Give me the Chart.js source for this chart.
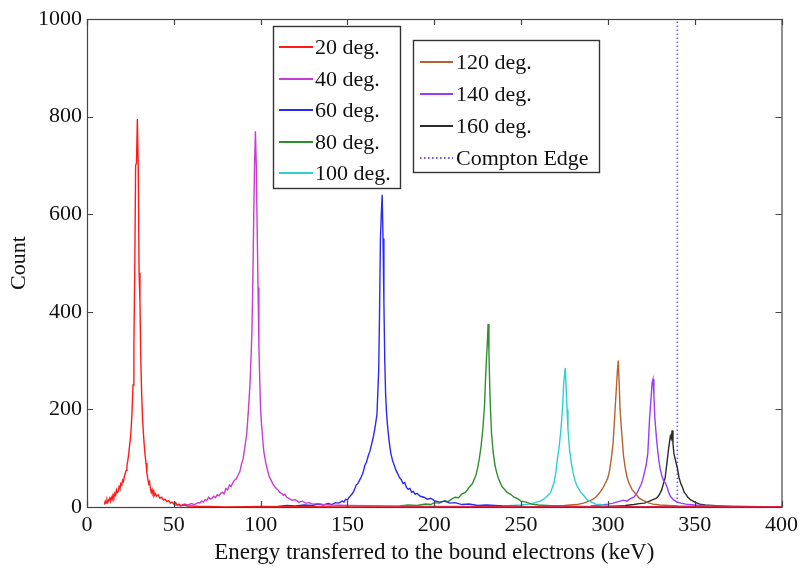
<!DOCTYPE html>
<html>
<head>
<meta charset="utf-8">
<script src="https://cdn.jsdelivr.net/npm/chart.js@4.4.0/dist/chart.umd.min.js"></script>
<style>
  html, body { margin: 0; padding: 0; background: #fff; }
  #wrap { width: 803px; height: 574px; }
</style>
</head>
<body>
<div id="wrap"><canvas id="spec"></canvas></div>
<script>
// energies (keV) and counts, one pair of arrays per angle
const e20 = [10, 10.5, 11, 11.5, 12, 12.5, 13, 13.5, 14, 14.5, 15, 15.5, 16, 16.5, 17, 17.5, 18, 18.5, 19, 19.5, 20, 20.5, 21, 21.5, 22, 22.5, 23, 23.5, 24, 24.5, 25, 25.5, 26, 26.5, 27, 27.5, 28, 28.5, 29, 29.5, 30, 30.5, 31, 31.5, 32, 32.5, 33, 33.5, 34, 34.5, 35, 35.5, 36, 36.5, 37, 37.5, 38, 38.5, 39, 39.5, 40, 41, 42, 43, 44, 45, 46, 47, 48, 49, 50, 51, 52, 53, 54, 56, 58, 60, 65, 70, 80, 100, 150, 250, 400];
const c20 = [5, 12, 8, 15, 10, 14, 18, 12, 20, 16, 25, 20, 28, 24, 35, 30, 32, 42, 38, 48, 45, 55, 52, 62, 68, 75, 85, 95, 108, 125, 140, 165, 200, 250, 330, 480, 700, 705, 795, 700, 480, 420, 300, 230, 180, 150, 125, 105, 90, 70, 58, 48, 52, 38, 30, 36, 28, 32, 24, 27, 22, 25, 18, 20, 14, 16, 11, 13, 8, 10, 6, 9, 4, 6, 3, 4, 2, 2, 1, 1, 0, 1, 0, 0, 0];

const e40 = [50, 52, 54, 56, 58, 60, 62, 64, 65, 66, 67, 68, 69, 70, 71, 72, 73, 74, 75, 76, 77, 78, 79, 80, 81, 82, 83, 84, 85, 86, 87, 88, 89, 90, 91, 92, 93, 94, 95, 95.5, 96, 96.5, 97, 97.5, 98, 98.5, 99, 99.5, 100, 100.5, 101, 101.5, 102, 103, 104, 105, 106, 107, 108, 109, 110, 111, 112, 113, 114, 115, 116, 118, 120, 122, 124, 126, 128, 130, 133, 136, 140, 150, 200, 300, 400];
const c40 = [3, 5, 2, 6, 4, 7, 5, 9, 8, 12, 10, 15, 13, 20, 16, 18, 22, 19, 25, 23, 28, 30, 27, 38, 35, 45, 42, 50, 55, 58, 65, 72, 88, 100, 125, 150, 200, 260, 360, 460, 590, 700, 770, 700, 575, 450, 330, 260, 200, 170, 150, 125, 110, 90, 75, 62, 55, 48, 42, 38, 35, 30, 28, 24, 26, 20, 18, 14, 15, 10, 12, 8, 9, 6, 7, 5, 4, 3, 1, 0, 0];

const e60 = [110, 115, 120, 125, 130, 133, 136, 139, 141, 143, 145, 147, 148, 149, 150, 151, 152, 153, 154, 155, 156, 157, 158, 159, 160, 161, 162, 163, 164, 165, 166, 167, 168, 168.5, 169, 169.5, 170, 170.5, 171, 171.5, 172, 172.5, 173, 174, 175, 176, 177, 178, 179, 180, 181, 182, 183, 184, 185, 186, 187, 188, 189, 190, 192, 194, 196, 198, 200, 203, 206, 209, 212, 216, 220, 225, 230, 240, 250, 300, 400];
const c60 = [1, 3, 2, 4, 3, 6, 4, 7, 5, 9, 8, 12, 10, 16, 14, 20, 24, 28, 35, 45, 48, 55, 62, 70, 85, 92, 105, 115, 130, 145, 165, 190, 280, 400, 550, 600, 640, 550, 420, 300, 230, 195, 170, 135, 110, 95, 85, 75, 68, 60, 56, 48, 50, 40, 36, 38, 30, 32, 26, 28, 22, 20, 16, 18, 13, 10, 12, 8, 9, 5, 6, 3, 4, 2, 1, 0, 0];

const e80 = [180, 185, 190, 195, 198, 200, 203, 206, 208, 210, 212, 214, 216, 218, 220, 222, 224, 225, 226, 227, 228, 229, 229.5, 230, 230.5, 231, 231.5, 232, 232.5, 233, 234, 235, 236, 237, 238, 239, 240, 242, 244, 246, 248, 250, 253, 256, 260, 270, 300, 400];
const c80 = [2, 4, 3, 6, 5, 9, 8, 13, 11, 16, 20, 19, 27, 30, 40, 48, 65, 80, 100, 125, 160, 210, 260, 300, 330, 375, 320, 240, 190, 150, 110, 85, 70, 58, 50, 42, 38, 30, 26, 20, 17, 12, 10, 6, 4, 2, 0, 0];

const e100 = [240, 250, 255, 258, 261, 263, 265, 267, 268, 269, 270, 271, 272, 273, 274, 274.5, 275, 275.5, 276, 276.5, 277, 278, 279, 280, 281, 282, 284, 286, 288, 290, 293, 296, 300, 310, 400];
const c100 = [2, 4, 6, 9, 12, 16, 22, 30, 40, 50, 70, 100, 125, 160, 210, 250, 270, 285, 240, 200, 160, 115, 90, 70, 55, 45, 32, 24, 15, 11, 6, 5, 2, 1, 0];

const e120 = [260, 275, 282, 286, 289, 291, 293, 295, 297, 298, 299, 300, 301, 302, 303, 304, 305, 305.5, 306, 306.5, 307, 308, 309, 310, 311, 312, 314, 316, 318, 320, 323, 326, 330, 340, 400];
const c120 = [2, 3, 5, 8, 12, 15, 20, 28, 38, 45, 52, 60, 75, 100, 130, 190, 250, 280, 300, 255, 200, 150, 105, 80, 62, 50, 35, 27, 18, 14, 9, 6, 4, 2, 0];

const e140 = [290, 296, 300, 303, 306, 309, 311, 313, 315, 317, 318, 319, 320, 321, 322, 323, 324, 325, 325.5, 326, 326.5, 327, 328, 329, 330, 331, 332, 333, 334, 335, 336, 337, 338, 340, 342, 345, 350, 360, 400];
const c140 = [2, 4, 6, 8, 11, 14, 12, 17, 20, 30, 38, 45, 55, 70, 85, 110, 180, 230, 255, 262, 230, 185, 140, 105, 80, 65, 55, 50, 42, 30, 22, 18, 14, 10, 8, 6, 4, 2, 0];

const e160 = [300, 310, 315, 318, 321, 324, 326, 328, 329, 330, 331, 332, 333, 334, 335, 336, 336.5, 337, 337.5, 338, 339, 340, 341, 342, 343, 344, 345, 346, 348, 350, 353, 356, 360, 370, 400];
const c160 = [1, 3, 5, 7, 8, 12, 15, 18, 22, 28, 35, 48, 60, 90, 120, 145, 140, 157, 130, 110, 95, 80, 60, 48, 40, 30, 26, 20, 14, 10, 6, 4, 3, 1, 0];

const comptonEdge = 340;

const xTicks = [0, 50, 100, 150, 200, 250, 300, 350, 400];
const yTicks = [0, 200, 400, 600, 800, 1000];

const labels = ["20 deg.", "40 deg.", "60 deg.", "80 deg.", "100 deg.", "120 deg.", "140 deg.", "160 deg.", "Compton Edge"];
const colors = ["#ff1a1a", "#c83ccf", "#2a2aef", "#2f8f2f", "#2fcfcf", "#b4622e", "#9a3cf5", "#2a2a2a", "#6a5cf0"];

const FONT = "'Liberation Serif', 'Times New Roman', serif";

function pts(xs, ys) {
  return xs.map((x, i) => ({ x: x, y: ys[i] }));
}

const series = [[e20, c20], [e40, c40], [e60, c60], [e80, c80], [e100, c100], [e120, c120], [e140, c140], [e160, c160]];

const datasets = series.map((s, i) => ({
  label: labels[i],
  data: pts(s[0], s[1]),
  borderColor: colors[i],
  borderWidth: 1.4,
  pointRadius: 0,
  tension: 0
}));

datasets.push({
  label: labels[8],
  data: [{ x: comptonEdge, y: 0 }, { x: comptonEdge, y: 1000 }],
  borderColor: colors[8],
  borderWidth: 1.6,
  borderDash: [1.6, 2.4],
  pointRadius: 0
});

// box + inward ticks on all four sides, like matlab axes
const boxPlugin = {
  id: "box",
  afterDatasetsDraw(chart) {
    const ctx = chart.ctx;
    const a = chart.chartArea;
    const xs = chart.scales.x, ys = chart.scales.y;
    ctx.save();
    ctx.strokeStyle = "#444";
    ctx.lineWidth = 1.2;
    ctx.strokeRect(a.left + 0.5, a.top + 0.5, a.right - a.left, a.bottom - a.top);
    ctx.beginPath();
    xTicks.forEach(v => {
      const px = Math.round(xs.getPixelForValue(v)) + 0.5;
      ctx.moveTo(px, a.bottom); ctx.lineTo(px, a.bottom - 6);
      ctx.moveTo(px, a.top); ctx.lineTo(px, a.top + 6);
    });
    yTicks.forEach(v => {
      const py = Math.round(ys.getPixelForValue(v)) + 0.5;
      ctx.moveTo(a.left, py); ctx.lineTo(a.left + 6, py);
      ctx.moveTo(a.right, py); ctx.lineTo(a.right - 6, py);
    });
    ctx.stroke();
    ctx.restore();
  }
};

// two separate legend boxes
const legendPlugin = {
  id: "twoLegends",
  afterDraw(chart) {
    const ctx = chart.ctx;
    const boxes = [
      { x: 273, y: 26, w: 127, h: 162, items: [0, 1, 2, 3, 4], rowY: 47, step: 31.5, lx0: 279, lx1: 313, tx: 315 },
      { x: 413, y: 40, w: 186, h: 132, items: [5, 6, 7, 8], rowY: 62, step: 32, lx0: 420, lx1: 453, tx: 456 }
    ];
    ctx.save();
    boxes.forEach(b => {
      ctx.fillStyle = "#fff";
      ctx.fillRect(b.x, b.y, b.w, b.h);
      ctx.strokeStyle = "#333";
      ctx.lineWidth = 1.4;
      ctx.strokeRect(b.x + 0.5, b.y + 0.5, b.w, b.h);
      b.items.forEach((idx, k) => {
        const ds = chart.data.datasets[idx];
        const y = Math.round(b.rowY + k * b.step);
        ctx.beginPath();
        ctx.strokeStyle = ds.borderColor;
        ctx.lineWidth = 2;
        ctx.setLineDash(ds.borderDash || []);
        ctx.moveTo(b.lx0, y);
        ctx.lineTo(b.lx1, y);
        ctx.stroke();
        ctx.setLineDash([]);
        ctx.fillStyle = "#111";
        ctx.font = "22px " + FONT;
        ctx.textBaseline = "middle";
        ctx.fillText(ds.label, b.tx, y + 1);
      });
    });
    ctx.restore();
  }
};

const ctx = document.getElementById("spec").getContext("2d");

new Chart(ctx, {
  type: "line",
  data: { datasets: datasets },
  options: {
    responsive: true,
    maintainAspectRatio: false,
    animation: false,
    layout: { padding: { top: 19, right: 19, left: 0, bottom: 0 } },
    plugins: {
      legend: { display: false },
      tooltip: { enabled: false }
    },
    scales: {
      x: {
        type: "linear",
        min: 0,
        max: 400,
        grid: { display: false, drawTicks: false },
        border: { display: false },
        afterFit: s => { s.height = 67; },
        afterBuildTicks: s => { s.ticks = xTicks.map(v => ({ value: v })); },
        ticks: { color: "#111", padding: 5, font: { family: FONT, size: 22 }, maxRotation: 0, callback: v => String(v) },
        title: {
          display: true,
          text: "Energy transferred to the bound electrons (keV)",
          color: "#111",
          font: { family: FONT, size: 23 },
          padding: { top: 0, bottom: 7 }
        }
      },
      y: {
        min: 0,
        max: 1000,
        grid: { display: false, drawTicks: false },
        border: { display: false },
        afterFit: s => { s.width = 87; },
        afterBuildTicks: s => { s.ticks = yTicks.map(v => ({ value: v })); },
        ticks: { color: "#111", padding: 5, font: { family: FONT, size: 22 }, callback: v => String(v) },
        title: {
          display: true,
          text: "Count",
          color: "#111",
          font: { family: FONT, size: 22 },
          padding: { top: 6, bottom: 0 }
        }
      }
    }
  },
  plugins: [boxPlugin, legendPlugin]
});
</script>
</body>
</html>
